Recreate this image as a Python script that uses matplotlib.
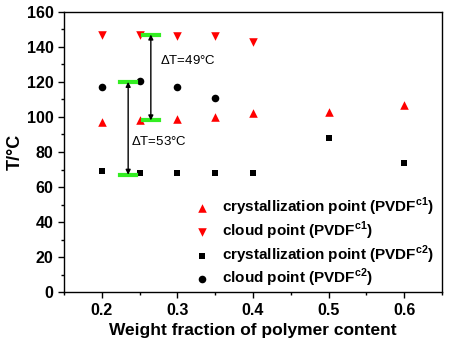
import matplotlib
matplotlib.use("Agg")
import matplotlib.pyplot as plt
from matplotlib.ticker import MultipleLocator

plt.rcParams['font.family'] = ['Liberation Sans', 'DejaVu Sans']
plt.rcParams['mathtext.fontset'] = 'custom'
plt.rcParams['mathtext.bf'] = 'Liberation Sans:bold'
plt.rcParams['mathtext.rm'] = 'Liberation Sans'

# data
x_c1_cryst = [0.2, 0.25, 0.3, 0.35, 0.4, 0.5, 0.6]
t_c1_cryst = [97, 98, 99, 100, 102, 103, 107]
x_c1_cloud = [0.2, 0.25, 0.3, 0.35, 0.4]
t_c1_cloud = [147, 147, 146, 146, 143]
x_c2_cryst = [0.2, 0.25, 0.3, 0.35, 0.4, 0.5, 0.6]
t_c2_cryst = [69, 68, 68, 68, 68, 88, 73.5]
x_c2_cloud = [0.2, 0.25, 0.3, 0.35]
t_c2_cloud = [117, 120.5, 117, 111]

# delta T annotations: (x of arrow, top, bottom, label)
dt_arrows = [(0.235, 120, 67, r'$\Delta$T=53°C'),
             (0.265, 147, 98, r'$\Delta$T=49°C')]

fig, ax = plt.subplots(figsize=(4.5, 3.45), dpi=100)
fig.subplots_adjust(left=0.142, right=0.982, top=0.966, bottom=0.153)

ax.scatter(x_c1_cryst, t_c1_cryst, marker='^', s=38, color='#ff0000', lw=0,
           label=r'crystallization point (PVDF$^{\mathbf{c1}}$)')
ax.scatter(x_c1_cloud, t_c1_cloud, marker='v', s=38, color='#ff0000', lw=0,
           label=r'cloud point (PVDF$^{\mathbf{c1}}$)')
ax.scatter(x_c2_cryst, t_c2_cryst, marker='s', s=22, color='black', lw=0,
           label=r'crystallization point (PVDF$^{\mathbf{c2}}$)')
ax.scatter(x_c2_cloud, t_c2_cloud, marker='o', s=30, color='black', lw=0,
           label=r'cloud point (PVDF$^{\mathbf{c2}}$)')

for xa, top, bot, lab in dt_arrows:
    for yy in (top, bot):
        ax.plot([xa - 0.0105, xa + 0.0105], [yy, yy], color='#33ee22', lw=3, zorder=3)
    ax.annotate('', xy=(xa, bot), xytext=(xa, top),
                arrowprops=dict(arrowstyle='<|-|>', color='black', lw=1,
                                mutation_scale=7, shrinkA=0, shrinkB=0))
ax.text(0.239, 86, dt_arrows[0][3], fontsize=9.5, va='center')
ax.text(0.2765, 132, dt_arrows[1][3], fontsize=9.5, va='center')

ax.set_xlim(0.15, 0.65)
ax.set_ylim(0, 160)
ax.xaxis.set_major_locator(MultipleLocator(0.1))
ax.xaxis.set_minor_locator(MultipleLocator(0.05))
ax.yaxis.set_major_locator(MultipleLocator(20))
ax.yaxis.set_minor_locator(MultipleLocator(10))
ax.tick_params(which='both', direction='out', top=False, right=False, width=1)
ax.tick_params(which='major', length=4, labelsize=11.5)
ax.tick_params(which='minor', length=2.5)
for lab in ax.get_xticklabels() + ax.get_yticklabels():
    lab.set_fontweight('bold')
for sp in ax.spines.values():
    sp.set_linewidth(1)

ax.set_xlabel('Weight fraction of polymer content', fontsize=12.5, fontweight='bold', labelpad=4)
ax.set_ylabel('T/°C', fontsize=13, fontweight='bold', labelpad=2)

ax.legend(loc='lower left', bbox_to_anchor=(0.345, 0.01), frameon=False,
          prop={'weight': 'bold', 'size': 11}, handlelength=1.0,
          handletextpad=0.8, labelspacing=0.1, borderaxespad=0, borderpad=0)

fig.savefig('out.png', dpi=100)
